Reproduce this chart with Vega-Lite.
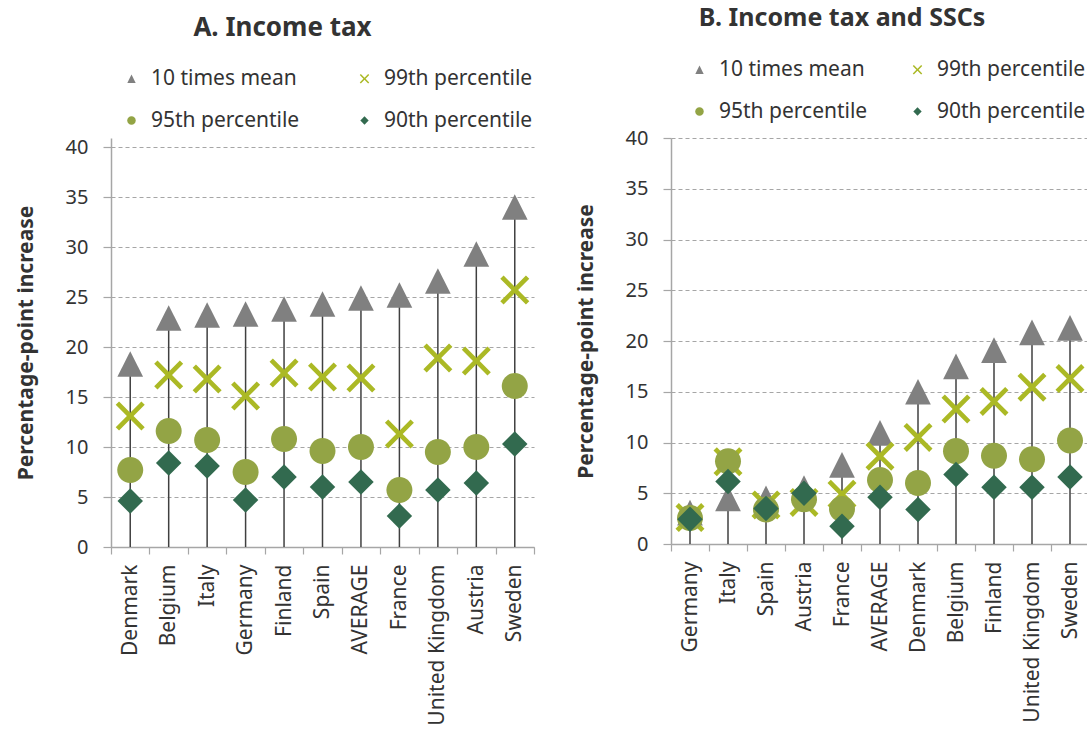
{
  "$schema": "https://vega.github.io/schema/vega-lite/v6.json",
  "padding": {"left": 15, "top": 6, "right": 0, "bottom": 0},
  "autosize": {"type": "pad"},
  "background": "white",
  "datasets": {
    "a": [
      {"country": "Denmark", "series": "10 times mean", "value": 18.3},
      {"country": "Belgium", "series": "10 times mean", "value": 22.9},
      {"country": "Italy", "series": "10 times mean", "value": 23.2},
      {"country": "Germany", "series": "10 times mean", "value": 23.3},
      {"country": "Finland", "series": "10 times mean", "value": 23.8},
      {"country": "Spain", "series": "10 times mean", "value": 24.3},
      {"country": "AVERAGE", "series": "10 times mean", "value": 24.9},
      {"country": "France", "series": "10 times mean", "value": 25.2},
      {"country": "United Kingdom", "series": "10 times mean", "value": 26.6},
      {"country": "Austria", "series": "10 times mean", "value": 29.3},
      {"country": "Sweden", "series": "10 times mean", "value": 34.0},
      {"country": "Denmark", "series": "99th percentile", "value": 13.1},
      {"country": "Belgium", "series": "99th percentile", "value": 17.2},
      {"country": "Italy", "series": "99th percentile", "value": 16.8},
      {"country": "Germany", "series": "99th percentile", "value": 15.1},
      {"country": "Finland", "series": "99th percentile", "value": 17.4},
      {"country": "Spain", "series": "99th percentile", "value": 17.0},
      {"country": "AVERAGE", "series": "99th percentile", "value": 16.9},
      {"country": "France", "series": "99th percentile", "value": 11.3},
      {"country": "United Kingdom", "series": "99th percentile", "value": 18.9},
      {"country": "Austria", "series": "99th percentile", "value": 18.6},
      {"country": "Sweden", "series": "99th percentile", "value": 25.7},
      {"country": "Denmark", "series": "95th percentile", "value": 7.7},
      {"country": "Belgium", "series": "95th percentile", "value": 11.6},
      {"country": "Italy", "series": "95th percentile", "value": 10.7},
      {"country": "Germany", "series": "95th percentile", "value": 7.5},
      {"country": "Finland", "series": "95th percentile", "value": 10.8},
      {"country": "Spain", "series": "95th percentile", "value": 9.6},
      {"country": "AVERAGE", "series": "95th percentile", "value": 10.0},
      {"country": "France", "series": "95th percentile", "value": 5.7},
      {"country": "United Kingdom", "series": "95th percentile", "value": 9.5},
      {"country": "Austria", "series": "95th percentile", "value": 10.0},
      {"country": "Sweden", "series": "95th percentile", "value": 16.1},
      {"country": "Denmark", "series": "90th percentile", "value": 4.6},
      {"country": "Belgium", "series": "90th percentile", "value": 8.4},
      {"country": "Italy", "series": "90th percentile", "value": 8.1},
      {"country": "Germany", "series": "90th percentile", "value": 4.7},
      {"country": "Finland", "series": "90th percentile", "value": 7.0},
      {"country": "Spain", "series": "90th percentile", "value": 6.0},
      {"country": "AVERAGE", "series": "90th percentile", "value": 6.5},
      {"country": "France", "series": "90th percentile", "value": 3.1},
      {"country": "United Kingdom", "series": "90th percentile", "value": 5.7},
      {"country": "Austria", "series": "90th percentile", "value": 6.4},
      {"country": "Sweden", "series": "90th percentile", "value": 10.3}
    ],
    "b": [
      {"country": "Germany", "series": "10 times mean", "value": 3.1},
      {"country": "Italy", "series": "10 times mean", "value": 4.5},
      {"country": "Spain", "series": "10 times mean", "value": 4.5},
      {"country": "Austria", "series": "10 times mean", "value": 5.5},
      {"country": "France", "series": "10 times mean", "value": 7.8},
      {"country": "AVERAGE", "series": "10 times mean", "value": 10.95},
      {"country": "Denmark", "series": "10 times mean", "value": 15.0},
      {"country": "Belgium", "series": "10 times mean", "value": 17.5},
      {"country": "Finland", "series": "10 times mean", "value": 19.1},
      {"country": "United Kingdom", "series": "10 times mean", "value": 20.85},
      {"country": "Sweden", "series": "10 times mean", "value": 21.3},
      {"country": "Germany", "series": "99th percentile", "value": 2.6},
      {"country": "Italy", "series": "99th percentile", "value": 8.1},
      {"country": "Spain", "series": "99th percentile", "value": 3.85},
      {"country": "Austria", "series": "99th percentile", "value": 4.1},
      {"country": "France", "series": "99th percentile", "value": 4.9},
      {"country": "AVERAGE", "series": "99th percentile", "value": 8.65},
      {"country": "Denmark", "series": "99th percentile", "value": 10.5},
      {"country": "Belgium", "series": "99th percentile", "value": 13.3},
      {"country": "Finland", "series": "99th percentile", "value": 14.05},
      {"country": "United Kingdom", "series": "99th percentile", "value": 15.45},
      {"country": "Sweden", "series": "99th percentile", "value": 16.3},
      {"country": "Germany", "series": "95th percentile", "value": 2.55},
      {"country": "Italy", "series": "95th percentile", "value": 8.15},
      {"country": "Spain", "series": "95th percentile", "value": 3.4},
      {"country": "Austria", "series": "95th percentile", "value": 4.4},
      {"country": "France", "series": "95th percentile", "value": 3.45},
      {"country": "AVERAGE", "series": "95th percentile", "value": 6.3},
      {"country": "Denmark", "series": "95th percentile", "value": 6.0},
      {"country": "Belgium", "series": "95th percentile", "value": 9.15},
      {"country": "Finland", "series": "95th percentile", "value": 8.7},
      {"country": "United Kingdom", "series": "95th percentile", "value": 8.35},
      {"country": "Sweden", "series": "95th percentile", "value": 10.2},
      {"country": "Germany", "series": "90th percentile", "value": 2.45},
      {"country": "Italy", "series": "90th percentile", "value": 6.15},
      {"country": "Spain", "series": "90th percentile", "value": 3.5},
      {"country": "Austria", "series": "90th percentile", "value": 5.0},
      {"country": "France", "series": "90th percentile", "value": 1.75},
      {"country": "AVERAGE", "series": "90th percentile", "value": 4.6},
      {"country": "Denmark", "series": "90th percentile", "value": 3.4},
      {"country": "Belgium", "series": "90th percentile", "value": 6.85},
      {"country": "Finland", "series": "90th percentile", "value": 5.6},
      {"country": "United Kingdom", "series": "90th percentile", "value": 5.6},
      {"country": "Sweden", "series": "90th percentile", "value": 6.6}
    ]
  },
  "config": {
    "font": "Noto Sans",
    "view": {"stroke": null},
    "title": {"fontSize": 26, "fontWeight": "bold", "color": "#333333", "font": "Noto Sans"},
    "axis": {
      "labelFont": "Noto Sans",
      "labelFontSize": 20,
      "labelColor": "#333333",
      "domainColor": "#a6a6a6",
      "domainWidth": 1.5,
      "tickColor": "#a6a6a6",
      "tickWidth": 1.2,
      "titleFont": "Noto Sans",
      "titleColor": "#333333"
    },
    "legend": {
      "labelFont": "Noto Sans",
      "labelFontSize": 21,
      "labelColor": "#333333",
      "symbolSize": 90,
      "labelOffset": 9,
      "rowPadding": 20,
      "padding": 0,
      "symbolStrokeWidth": 0
    },
    "concat": {"spacing": 40}
  },
  "hconcat": [
    {
      "width": 423,
      "height": 409,
      "title": {"text": "A. Income tax", "anchor": "middle", "dx": -40, "offset": 27},
      "layer": [
        {
          "data": {"name": "a"},
          "transform": [{"aggregate": [{"op": "max", "field": "value", "as": "top"}], "groupby": ["country"]}],
          "mark": {"type": "rule", "color": "#404040", "strokeWidth": 1.5},
          "encoding": {
            "x": {"field": "country", "type": "nominal", "sort": ["Denmark", "Belgium", "Italy", "Germany", "Finland", "Spain", "AVERAGE", "France", "United Kingdom", "Austria", "Sweden"], "scale": {"type": "band", "paddingInner": 0, "paddingOuter": 0},
              "axis": {"title": null, "labelAngle": -90, "labelFontSize": 21, "tickBand": "extent", "tickSize": 7, "labelPadding": 10, "grid": false}},
            "y": {"field": "top", "type": "quantitative", "scale": {"domain": [0, 40.9], "nice": false},
              "axis": {"values": [0, 5, 10, 15, 20, 25, 30, 35, 40], "grid": true, "gridDash": [4, 3], "gridColor": "#a6a6a6", "gridWidth": 1.2, "tickSize": 8, "labelPadding": 15, "title": "Percentage-point increase", "titleFontSize": 21, "titleFontWeight": "bold", "titlePadding": 29}},
            "y2": {"datum": 0}
          }
        },
        {
          "data": {"name": "a"},
          "mark": {"type": "point", "filled": true, "size": 841, "opacity": 1},
          "encoding": {
            "x": {"field": "country", "type": "nominal", "sort": ["Denmark", "Belgium", "Italy", "Germany", "Finland", "Spain", "AVERAGE", "France", "United Kingdom", "Austria", "Sweden"]},
            "y": {"field": "value", "type": "quantitative"},
            "color": {"field": "series", "type": "nominal",
              "scale": {"domain": ["10 times mean", "99th percentile", "95th percentile", "90th percentile"], "range": ["#808080", "#abb925", "#93a445", "#326a4f"]},
              "legend": {"orient": "none", "direction": "horizontal", "legendX": 10, "legendY": -70, "columns": 2, "title": null, "columnPadding": 54}},
            "shape": {"field": "series", "type": "nominal",
              "scale": {"domain": ["10 times mean", "99th percentile", "95th percentile", "90th percentile"], "range": ["M0,-0.886L0.886,0.886L-0.886,0.886Z", "M-1,-0.77L-0.77,-1L0,-0.23L0.77,-1L1,-0.77L0.23,0L1,0.77L0.77,1L0,0.23L-0.77,1L-1,0.77L-0.23,0Z", "M0.897,0A0.897,0.897,0,1,1,-0.897,0A0.897,0.897,0,1,1,0.897,0Z", "M0,-0.879L0.879,0L0,0.879L-0.879,0Z"]},
              "legend": {"orient": "none", "direction": "horizontal", "legendX": 10, "legendY": -70, "columns": 2, "title": null, "columnPadding": 54}}
          }
        }
      ]
    },
    {
      "width": 418,
      "height": 406,
      "title": {"text": "B. Income tax and SSCs", "anchor": "middle", "dx": -38, "offset": 28, "fontSize": 25},
      "layer": [
        {
          "data": {"name": "b"},
          "transform": [{"aggregate": [{"op": "max", "field": "value", "as": "top"}], "groupby": ["country"]}],
          "mark": {"type": "rule", "color": "#404040", "strokeWidth": 1.5},
          "encoding": {
            "x": {"field": "country", "type": "nominal", "sort": ["Germany", "Italy", "Spain", "Austria", "France", "AVERAGE", "Denmark", "Belgium", "Finland", "United Kingdom", "Sweden"], "scale": {"type": "band", "paddingInner": 0, "paddingOuter": 0},
              "axis": {"title": null, "labelAngle": -90, "labelFontSize": 21, "tickBand": "extent", "tickSize": 7, "labelPadding": 10, "grid": false}},
            "y": {"field": "top", "type": "quantitative", "scale": {"domain": [0, 40], "nice": false},
              "axis": {"values": [0, 5, 10, 15, 20, 25, 30, 35, 40], "grid": true, "gridDash": [4, 3], "gridColor": "#a6a6a6", "gridWidth": 1.2, "tickSize": 8, "labelPadding": 15, "title": "Percentage-point increase", "titleFontSize": 21, "titleFontWeight": "bold", "titlePadding": 29}},
            "y2": {"datum": 0}
          }
        },
        {
          "data": {"name": "b"},
          "mark": {"type": "point", "filled": true, "size": 841, "opacity": 1},
          "encoding": {
            "x": {"field": "country", "type": "nominal", "sort": ["Germany", "Italy", "Spain", "Austria", "France", "AVERAGE", "Denmark", "Belgium", "Finland", "United Kingdom", "Sweden"]},
            "y": {"field": "value", "type": "quantitative"},
            "color": {"field": "series", "type": "nominal",
              "scale": {"domain": ["10 times mean", "99th percentile", "95th percentile", "90th percentile"], "range": ["#808080", "#abb925", "#93a445", "#326a4f"]},
              "legend": {"orient": "none", "direction": "horizontal", "legendX": 18, "legendY": -79, "columns": 2, "title": null, "columnPadding": 39}},
            "shape": {"field": "series", "type": "nominal",
              "scale": {"domain": ["10 times mean", "99th percentile", "95th percentile", "90th percentile"], "range": ["M0,-0.886L0.886,0.886L-0.886,0.886Z", "M-1,-0.77L-0.77,-1L0,-0.23L0.77,-1L1,-0.77L0.23,0L1,0.77L0.77,1L0,0.23L-0.77,1L-1,0.77L-0.23,0Z", "M0.897,0A0.897,0.897,0,1,1,-0.897,0A0.897,0.897,0,1,1,0.897,0Z", "M0,-0.879L0.879,0L0,0.879L-0.879,0Z"]},
              "legend": {"orient": "none", "direction": "horizontal", "legendX": 18, "legendY": -79, "columns": 2, "title": null, "columnPadding": 39}}
          }
        }
      ]
    }
  ],
  "resolve": {"scale": {"color": "independent", "shape": "independent"}, "legend": {"color": "independent", "shape": "independent"}}
}
